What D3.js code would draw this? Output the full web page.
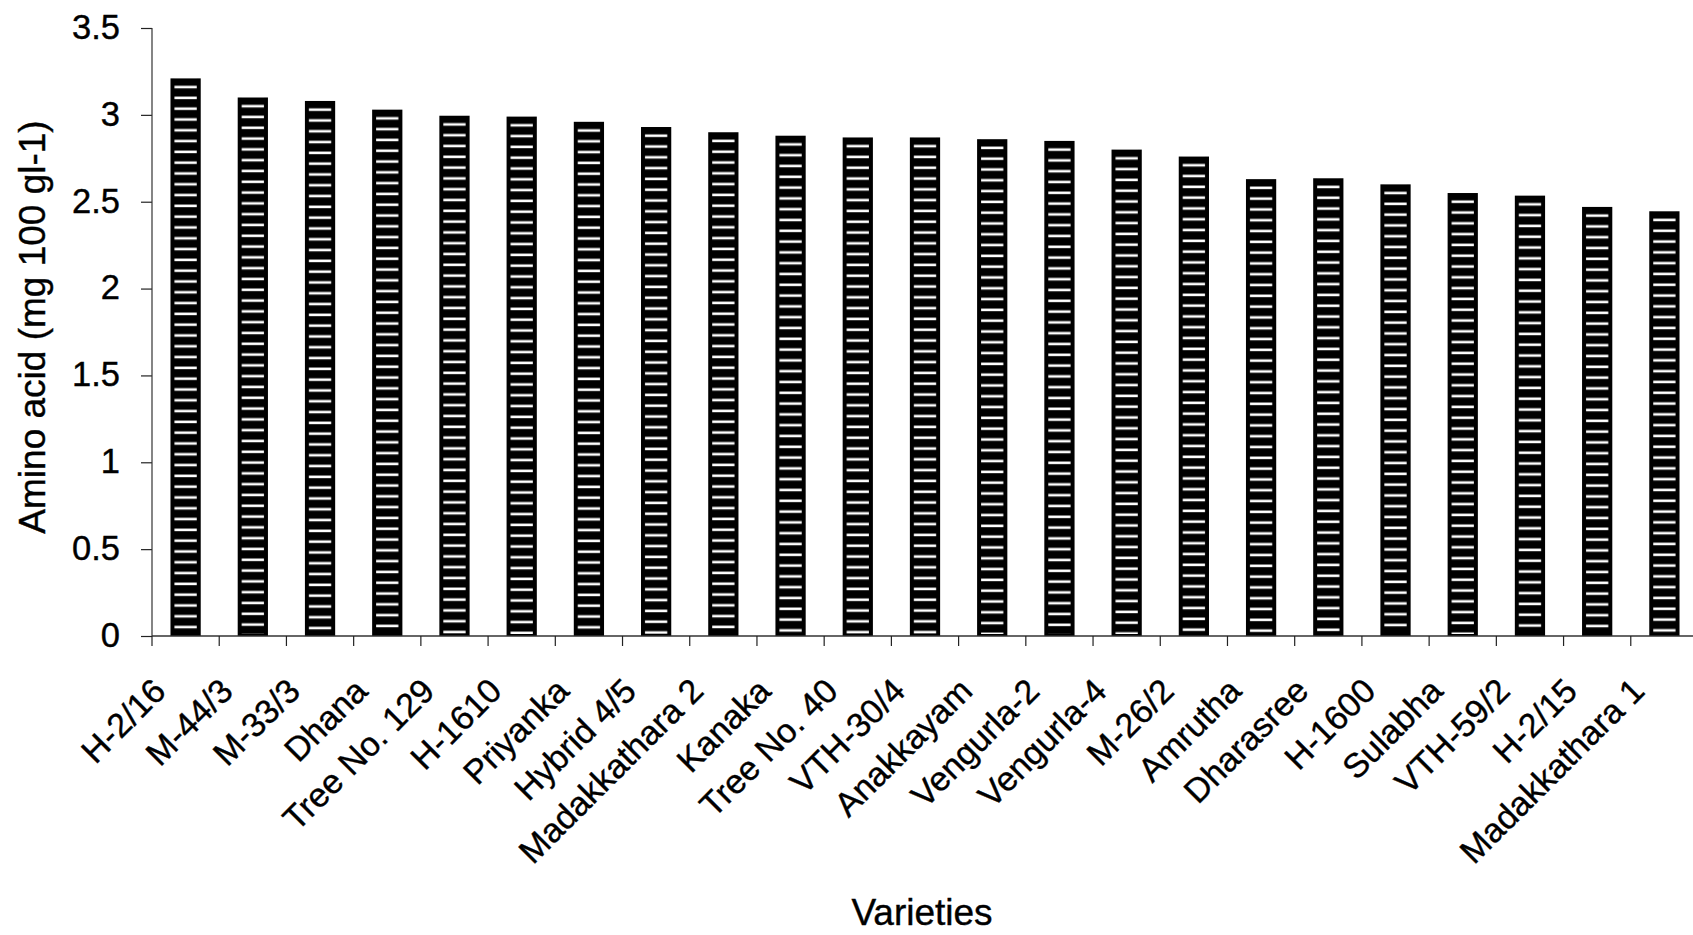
<!DOCTYPE html>
<html>
<head>
<meta charset="utf-8">
<script src="https://cdn.jsdelivr.net/npm/d3@7"></script>
<style>
  html, body { margin: 0; padding: 0; background: #fff; }
  svg { display: block; }
  text { font-family: "Liberation Sans", Arial, sans-serif; fill: #000; stroke: #000; stroke-width: 0.4px; }
</style>
</head>
<body>
<svg id="chart" width="1693" height="935"></svg>
<script>
const categories = ["H-2/16","M-44/3","M-33/3","Dhana","Tree No. 129","H-1610","Priyanka","Hybrid 4/5","Madakkathara 2","Kanaka","Tree No. 40","VTH-30/4","Anakkayam","Vengurla-2","Vengurla-4","M-26/2","Amrutha","Dharasree","H-1600","Sulabha","VTH-59/2","H-2/15","Madakkathara 1"];
const values = [3.21,3.10,3.08,3.03,2.995,2.99,2.96,2.93,2.90,2.88,2.87,2.87,2.86,2.85,2.80,2.76,2.63,2.635,2.60,2.55,2.535,2.47,2.445];
const yTicks = [0,0.5,1,1.5,2,2.5,3,3.5];
const yTickLabels = ["0","0.5","1","1.5","2","2.5","3","3.5"];
const yTitle = "Amino acid (mg 100 gl-1)";
const xTitle = "Varieties";

const svg = d3.select("#chart");
const x0 = 152, x1 = 1698, yTop = 28, yBase = 636;

const x = d3.scaleBand().domain(categories).range([x0, x1]).padding(0);
const y = d3.scaleLinear().domain([0, 3.5]).range([yBase, yTop]);
const bw = x.bandwidth() * 0.45;

// dash pattern (anchored at each bar's top-left)
const defs = svg.append("defs");
const pat = defs.append("pattern")
  .attr("id", "dash")
  .attr("patternUnits", "userSpaceOnUse")
  .attr("width", bw).attr("height", 10.8);
pat.append("rect").attr("x", 4).attr("y", 7.4)
  .attr("width", bw - 8).attr("height", 2.6).attr("fill", "#fff");

// bars
const bars = svg.append("g").selectAll("g").data(categories).join("g")
  .attr("transform", (c, i) => `translate(${x(c) + (x.bandwidth() - bw) / 2},${y(values[i])})`);
bars.append("rect")
  .attr("width", bw)
  .attr("height", (c, i) => yBase - y(values[i]))
  .attr("fill", "#000");
bars.append("rect")
  .attr("width", bw)
  .attr("height", (c, i) => Math.max(0, yBase - y(values[i]) - 2))
  .attr("fill", "url(#dash)");

// y axis
const yAxis = d3.axisLeft(y).tickValues(yTicks)
  .tickFormat((d, i) => yTickLabels[i]).tickSize(11).tickPadding(21);
const gy = svg.append("g").attr("transform", `translate(${x0},0)`).call(yAxis);
gy.select(".domain").remove();
gy.selectAll(".tick line").attr("stroke", "#222").attr("stroke-width", 1.2);
gy.selectAll(".tick text").attr("font-size", 34.5).attr("dy", "0.3em")
  .style("font-family", "'Liberation Sans', Arial, sans-serif");
svg.append("line").attr("x1", x0).attr("x2", x0).attr("y1", y(3.5)).attr("y2", y(0))
  .attr("stroke", "#333").attr("stroke-width", 1.2);

// x axis line
svg.append("line").attr("x1", x0).attr("x2", 1693).attr("y1", yBase).attr("y2", yBase)
  .attr("stroke", "#333").attr("stroke-width", 1.6);

// x ticks at band boundaries
const bounds = categories.map(c => x(c));
svg.append("g").selectAll("line").data(bounds).join("line")
  .attr("x1", d => d).attr("x2", d => d)
  .attr("y1", yBase).attr("y2", yBase + 10)
  .attr("stroke", "#222").attr("stroke-width", 1.2);

// x labels
svg.append("g").selectAll("text").data(categories).join("text")
  .attr("transform", c => `translate(${x(c) + x.bandwidth() / 2 - 18},${yBase + 57}) rotate(-45)`)
  .attr("text-anchor", "end")
  .attr("font-size", 34)
  .text(c => c);

// titles
svg.append("text")
  .attr("transform", `translate(45,327) rotate(-90)`)
  .attr("text-anchor", "middle")
  .attr("font-size", 37)
  .text(yTitle);
svg.append("text")
  .attr("x", 922).attr("y", 925)
  .attr("text-anchor", "middle")
  .attr("font-size", 37)
  .text(xTitle);
</script>
</body>
</html>
